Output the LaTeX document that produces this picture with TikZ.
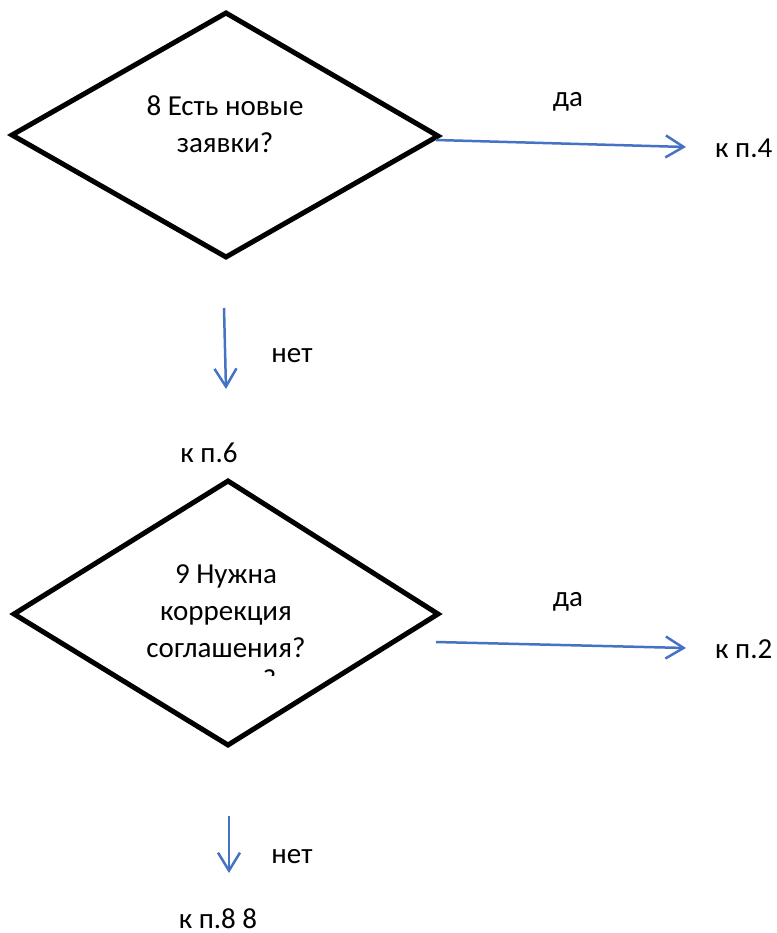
\documentclass[tikz,border=0pt]{standalone}
\usepackage{fontspec}
\setmainfont{Carlito}
\usetikzlibrary{arrows.meta}
\definecolor{arrowblue}{RGB}{68,114,196}
\tikzset{
  decision/.style={draw=black, line width=5pt, line join=miter},
  lbl/.style={font=\fontsize{29}{37}\selectfont, inner sep=0pt, align=center},
  flow/.style={draw=arrowblue, line width=2.5pt, -{Straight Barb[length=18pt, width=22pt, line width=2.5pt]}}
}
\begin{document}
\begin{tikzpicture}[x=1pt, y=-1pt]
\useasboundingbox (0,0) rectangle (776,933);
% decision 8
\coordinate (d1t) at (226,13);
\coordinate (d1l) at (12,135);
\coordinate (d1r) at (438,136);
\coordinate (d1b) at (226,257);
\draw[decision] (d1t) -- (d1r) -- (d1b) -- (d1l) -- cycle;
\node[lbl] (q1) at (225,124) {8 Есть новые\\заявки?};
\coordinate (a1s) at (436,140);
\node[lbl, anchor=west] (k4) at (715,148) {к п.4};
\coordinate (a1e) at (686,147);
\draw[flow] (a1s) -- (a1e);
\node[lbl] (da1) at (568,102) {да};
\coordinate (a2s) at (224,308);
\coordinate (a2e) at (226,389);
\draw[flow] (a2s) -- (a2e);
\node[lbl] (net1) at (292,356) {нет};
\node[lbl] (k6) at (209,453) {к п.6};
% decision 9
\coordinate (d2t) at (228,481);
\coordinate (d2l) at (14,614);
\coordinate (d2r) at (438,614);
\coordinate (d2b) at (228,745);
\draw[decision] (d2t) -- (d2r) -- (d2b) -- (d2l) -- cycle;
\node[lbl] (q2) at (226,611) {9 Нужна\\коррекция\\соглашения?};
\begin{scope}
\clip (250,660) rectangle (290,675);
\node[font=\fontsize{29}{37}\selectfont, inner sep=0pt, anchor=north] (qc) at (269.5,669.5) {?};
\end{scope}
\coordinate (a3s) at (436,642);
\coordinate (a3e) at (686,648);
\draw[flow] (a3s) -- (a3e);
\node[lbl] (da2) at (568,602) {да};
\node[lbl, anchor=west] (k2) at (715,649) {к п.2};
\coordinate (a4s) at (229,816);
\coordinate (a4e) at (229,873);
\draw[flow] (a4s) -- (a4e);
\node[lbl] (net2) at (292,857) {нет};
\node[lbl] (k8) at (218,919) {к п.8 8};
\end{tikzpicture}
\end{document}
